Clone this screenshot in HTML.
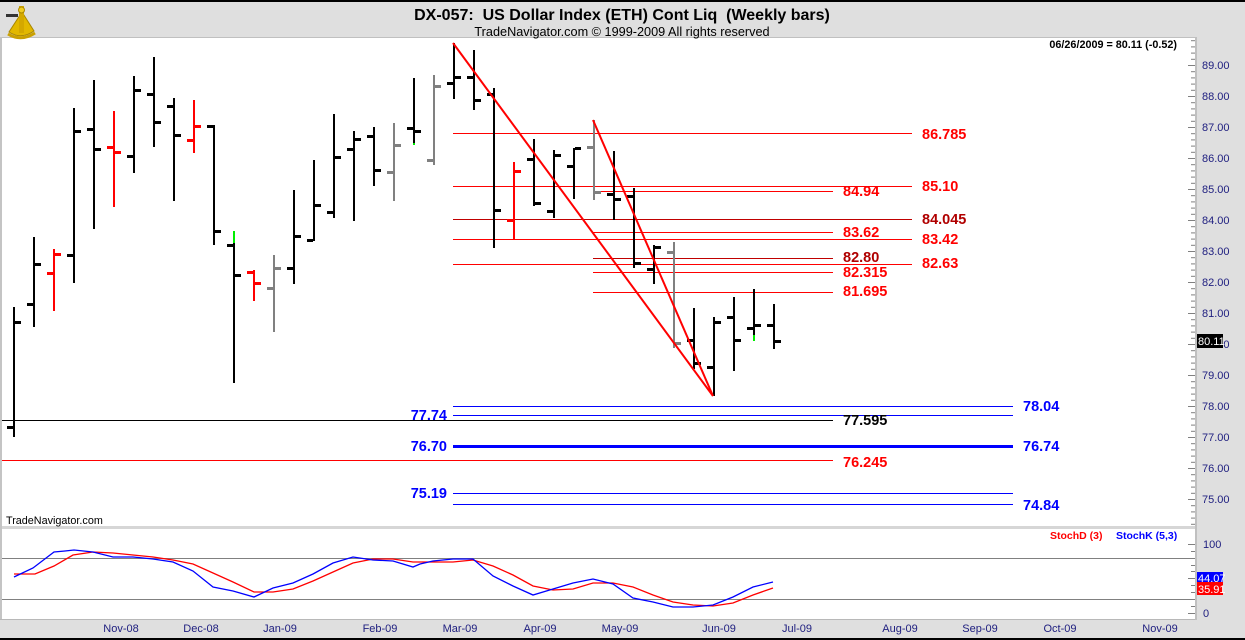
<!DOCTYPE html>
<html><head><meta charset="utf-8"><style>
html,body{margin:0;padding:0;background:#dfdfdf;}
svg{display:block;font-family:"Liberation Sans",Arial,sans-serif;}
</style></head><body>
<svg width="1245" height="640" viewBox="0 0 1245 640" xmlns="http://www.w3.org/2000/svg">
<defs>
<pattern id="tk" x="1188" y="65" width="8" height="31" patternUnits="userSpaceOnUse">
<rect x="0" y="0" width="7" height="1" fill="#808080"/>
<rect x="3" y="6.2" width="4" height="1" fill="#808080"/>
<rect x="3" y="12.4" width="4" height="1" fill="#808080"/>
<rect x="3" y="18.6" width="4" height="1" fill="#808080"/>
<rect x="3" y="24.8" width="4" height="1" fill="#808080"/>
</pattern>
</defs>
<rect x="0" y="0" width="1245" height="640" fill="#dfdfdf"/>
<rect x="0" y="0" width="1245" height="2" fill="#000"/>
<rect x="0" y="638" width="1245" height="2" fill="#000"/>
<rect x="0" y="37" width="1197" height="1" fill="#c0c0c0"/>
<rect x="0" y="37" width="2" height="583" fill="#c4c4c4"/>
<!-- main plot -->
<rect x="2" y="38" width="1193" height="488" fill="#fff"/>
<rect x="2" y="526" width="1193" height="3" fill="#d6d6d6"/>
<rect x="2" y="529" width="1193" height="90" fill="#fff"/>
<rect x="0" y="619" width="1197" height="1" fill="#b8b8b8"/>
<rect x="1195" y="37" width="2" height="583" fill="#c0c0c0"/>

<!-- sextant icon -->
<g>
<path d="M9 32 Q21 40 34 31 L22 12 Z" fill="#e2b800" stroke="#a88600" stroke-width="1"/>
<rect x="19" y="6" width="5" height="27" fill="#d4a800"/>
<rect x="6" y="14" width="12" height="3" fill="#333"/>
<circle cx="21.5" cy="10" r="3" fill="#f0cc20" stroke="#a88600"/>
<path d="M8 34 Q21 42 35 33" fill="none" stroke="#caa000" stroke-width="3"/>
</g>

<!-- title -->
<text x="622" y="20" text-anchor="middle" font-size="16" font-weight="bold" fill="#000" style="white-space:pre" xml:space="preserve">DX-057:  US Dollar Index (ETH) Cont Liq  (Weekly bars)</text>
<text x="622" y="36" text-anchor="middle" font-size="12.7" fill="#000">TradeNavigator.com © 1999-2009 All rights reserved</text>
<text x="1177" y="48" text-anchor="end" font-size="10.8" font-weight="bold" fill="#000">06/26/2009 = 80.11 (-0.52)</text>

<!-- right axis ticks -->
<rect x="1188" y="38" width="7" height="488" fill="url(#tk)"/>
<g font-size="11" fill="#202080">
<text x="1202" y="69">89.00</text>
<text x="1202" y="100">88.00</text>
<text x="1202" y="131">87.00</text>
<text x="1202" y="162">86.00</text>
<text x="1202" y="193">85.00</text>
<text x="1202" y="224">84.00</text>
<text x="1202" y="255">83.00</text>
<text x="1202" y="286">82.00</text>
<text x="1202" y="317">81.00</text>
<text x="1202" y="348">80.00</text>
<text x="1202" y="379">79.00</text>
<text x="1202" y="410">78.00</text>
<text x="1202" y="441">77.00</text>
<text x="1202" y="472">76.00</text>
<text x="1202" y="503">75.00</text>
</g>
<rect x="1197" y="334" width="26" height="14" fill="#000"/>
<text x="1198" y="345" font-size="11" fill="#fff">80.11</text>

<!-- horizontal level lines -->
<g shape-rendering="crispEdges">
<rect x="453" y="133" width="459" height="1" fill="#ff0000"/>
<rect x="453" y="186" width="459" height="1" fill="#ff0000"/>
<rect x="453" y="219" width="459" height="1" fill="#c00000"/>
<rect x="453" y="239" width="459" height="1" fill="#ff0000"/>
<rect x="453" y="264" width="459" height="1" fill="#ff0000"/>
<rect x="593" y="191" width="240" height="1" fill="#ff0000"/>
<rect x="593" y="232" width="240" height="1" fill="#ff0000"/>
<rect x="593" y="258" width="240" height="1" fill="#c00000"/>
<rect x="593" y="272" width="240" height="1" fill="#ff0000"/>
<rect x="593" y="292" width="240" height="1" fill="#ff0000"/>
<rect x="453" y="406" width="560" height="1" fill="#0000ff"/>
<rect x="453" y="415" width="560" height="1" fill="#0000ff"/>
<rect x="453" y="445" width="560" height="3" fill="#0000ff"/>
<rect x="453" y="493" width="560" height="1" fill="#0000ff"/>
<rect x="453" y="504" width="560" height="1" fill="#0000ff"/>
<rect x="2" y="420" width="831" height="1" fill="#000"/>
<rect x="2" y="460" width="831" height="1" fill="#ff0000"/>
</g>

<!-- labels -->
<g font-size="14.5" font-weight="bold">
<text x="922" y="139" fill="#ff0000">86.785</text>
<text x="922" y="191" fill="#ff0000">85.10</text>
<text x="922" y="224" fill="#b00000">84.045</text>
<text x="922" y="244" fill="#ff0000">83.42</text>
<text x="922" y="268" fill="#ff0000">82.63</text>
<text x="843" y="196" fill="#ff0000">84.94</text>
<text x="843" y="237" fill="#ff0000">83.62</text>
<text x="843" y="262" fill="#b00000">82.80</text>
<text x="843" y="277" fill="#ff0000">82.315</text>
<text x="843" y="296" fill="#ff0000">81.695</text>
<text x="843" y="425" fill="#000">77.595</text>
<text x="843" y="467" fill="#ff0000">76.245</text>
<text x="1023" y="411" fill="#0000ff">78.04</text>
<text x="1023" y="451" fill="#0000ff">76.74</text>
<text x="1023" y="510" fill="#0000ff">74.84</text>
<text x="447" y="420" text-anchor="end" fill="#0000ff">77.74</text>
<text x="447" y="451" text-anchor="end" fill="#0000ff">76.70</text>
<text x="447" y="498" text-anchor="end" fill="#0000ff">75.19</text>
</g>

<!-- bars -->
<g shape-rendering="crispEdges">
<g fill="#000">
<rect x="13" y="307" width="2" height="130"/><rect x="7" y="426" width="6" height="3"/><rect x="15" y="321" width="6" height="3"/>
<rect x="33" y="237" width="2" height="90"/><rect x="27" y="303" width="6" height="3"/><rect x="35" y="263" width="6" height="3"/>
<rect x="73" y="108" width="2" height="175"/><rect x="67" y="254" width="6" height="3"/><rect x="75" y="130" width="6" height="3"/>
<rect x="93" y="80" width="2" height="149"/><rect x="87" y="128" width="6" height="3"/><rect x="95" y="148" width="6" height="3"/>
<rect x="133" y="76" width="2" height="97"/><rect x="127" y="155" width="6" height="3"/><rect x="135" y="89" width="6" height="3"/>
<rect x="153" y="57" width="2" height="90"/><rect x="147" y="93" width="6" height="3"/><rect x="155" y="121" width="6" height="3"/>
<rect x="173" y="98" width="2" height="103"/><rect x="167" y="105" width="6" height="3"/><rect x="175" y="134" width="6" height="3"/>
<rect x="213" y="125" width="2" height="120"/><rect x="207" y="125" width="6" height="3"/><rect x="215" y="230" width="6" height="3"/>
<rect x="233" y="243" width="2" height="140"/><rect x="227" y="244" width="6" height="3"/><rect x="235" y="274" width="6" height="3"/>
<rect x="293" y="190" width="2" height="94"/><rect x="287" y="267" width="6" height="3"/><rect x="295" y="235" width="6" height="3"/>
<rect x="313" y="160" width="2" height="81"/><rect x="307" y="239" width="6" height="3"/><rect x="315" y="204" width="6" height="3"/>
<rect x="333" y="114" width="2" height="104"/><rect x="327" y="211" width="6" height="3"/><rect x="335" y="156" width="6" height="3"/>
<rect x="353" y="131" width="2" height="90"/><rect x="347" y="148" width="6" height="3"/><rect x="355" y="138" width="6" height="3"/>
<rect x="373" y="127" width="2" height="59"/><rect x="367" y="135" width="6" height="3"/><rect x="375" y="169" width="6" height="3"/>
<rect x="413" y="78" width="2" height="65"/><rect x="407" y="127" width="6" height="3"/><rect x="415" y="130" width="6" height="3"/>
<rect x="453" y="43" width="2" height="56"/><rect x="447" y="82" width="6" height="3"/><rect x="455" y="76" width="6" height="3"/>
<rect x="473" y="50" width="2" height="60"/><rect x="467" y="76" width="6" height="3"/><rect x="475" y="99" width="6" height="3"/>
<rect x="493" y="88" width="2" height="160"/><rect x="487" y="93" width="6" height="3"/><rect x="495" y="209" width="6" height="3"/>
<rect x="533" y="139" width="2" height="67"/><rect x="527" y="158" width="6" height="3"/><rect x="535" y="202" width="6" height="3"/>
<rect x="553" y="150" width="2" height="68"/><rect x="547" y="210" width="6" height="3"/><rect x="555" y="154" width="6" height="3"/>
<rect x="573" y="148" width="2" height="51"/><rect x="567" y="165" width="6" height="3"/><rect x="575" y="147" width="6" height="3"/>
<rect x="613" y="151" width="2" height="69"/><rect x="607" y="193" width="6" height="3"/><rect x="615" y="198" width="6" height="3"/>
<rect x="633" y="188" width="2" height="80"/><rect x="627" y="195" width="6" height="3"/><rect x="635" y="262" width="6" height="3"/>
<rect x="653" y="245" width="2" height="39"/><rect x="647" y="268" width="6" height="3"/><rect x="655" y="246" width="6" height="3"/>
<rect x="693" y="308" width="2" height="61"/><rect x="687" y="339" width="6" height="3"/><rect x="695" y="362" width="6" height="3"/>
<rect x="713" y="317" width="2" height="79"/><rect x="707" y="366" width="6" height="3"/><rect x="715" y="321" width="6" height="3"/>
<rect x="733" y="297" width="2" height="74"/><rect x="727" y="316" width="6" height="3"/><rect x="735" y="339" width="6" height="3"/>
<rect x="753" y="289" width="2" height="46"/><rect x="747" y="327" width="6" height="3"/><rect x="755" y="324" width="6" height="3"/>
<rect x="773" y="304" width="2" height="45"/><rect x="767" y="324" width="6" height="3"/><rect x="775" y="340" width="6" height="3"/>
</g>
<g fill="#ff0000">
<rect x="53" y="249" width="2" height="62"/><rect x="47" y="272" width="6" height="3"/><rect x="55" y="253" width="6" height="3"/>
<rect x="113" y="111" width="2" height="96"/><rect x="107" y="146" width="6" height="3"/><rect x="115" y="151" width="6" height="3"/>
<rect x="193" y="100" width="2" height="53"/><rect x="187" y="139" width="6" height="3"/><rect x="195" y="125" width="6" height="3"/>
<rect x="253" y="270" width="2" height="31"/><rect x="247" y="271" width="6" height="3"/><rect x="255" y="282" width="6" height="3"/>
<rect x="513" y="162" width="2" height="78"/><rect x="507" y="219" width="6" height="3"/><rect x="515" y="170" width="6" height="3"/>
</g>
<g fill="#808080">
<rect x="273" y="255" width="2" height="77"/><rect x="267" y="287" width="6" height="3"/><rect x="275" y="267" width="6" height="3"/>
<rect x="393" y="123" width="2" height="78"/><rect x="387" y="171" width="6" height="3"/><rect x="395" y="144" width="6" height="3"/>
<rect x="433" y="75" width="2" height="90"/><rect x="427" y="159" width="6" height="3"/><rect x="435" y="85" width="6" height="3"/>
<rect x="593" y="120" width="2" height="80"/><rect x="587" y="146" width="6" height="3"/><rect x="595" y="191" width="6" height="3"/>
<rect x="673" y="242" width="2" height="106"/><rect x="667" y="251" width="6" height="3"/><rect x="675" y="342" width="6" height="3"/>
</g>
<g fill="#00ee00">
<rect x="233" y="231" width="2" height="12"/>
<rect x="413" y="143" width="2" height="2"/>
<rect x="753" y="335" width="2" height="6"/>
</g>
</g>

<!-- trend lines -->
<line x1="453" y1="43" x2="713" y2="396" stroke="#ff0000" stroke-width="2"/>
<line x1="593" y1="120" x2="713" y2="396" stroke="#ff0000" stroke-width="2"/>

<text x="6" y="524" font-size="10.8" fill="#000">TradeNavigator.com</text>

<!-- stochastic panel -->
<rect x="2" y="558" width="1193" height="1" fill="#808080"/>
<rect x="2" y="599" width="1193" height="1" fill="#808080"/>
<text x="1050" y="539" font-size="10.5" font-weight="bold" fill="#ff0000">StochD (3)</text>
<text x="1116" y="539" font-size="10.5" font-weight="bold" fill="#0000ff">StochK (5,3)</text>
<polyline fill="none" stroke="#ff0000" stroke-width="1.3" points="14,574 35,574 54,566 73,555 93,552 113,553 133,555 153,557 173,560 193,564 213,573 233,582 254,592 273,592 293,589 313,581 333,572 353,563 373,559 393,559 413,562 433,562 453,562 473,560 493,566 513,575 533,586 553,590 573,589 593,583 613,583 633,587 653,595 673,602 693,605 713,606 733,603 753,595 773,588"/>
<polyline fill="none" stroke="#0000ff" stroke-width="1.3" points="14,577 33,568 54,552 65,551 74,550 93,552 113,557 133,557 153,559 173,562 193,571 213,587 233,591 254,597 273,588 293,583 313,574 333,563 353,557 373,560 393,561 413,567 420,564 433,561 453,559 473,559 493,576 513,586 533,595 553,589 573,583 593,579 613,584 633,598 653,602 673,607 693,607 713,605 733,597 753,587 773,582"/>
<g fill="#808080" shape-rendering="crispEdges">
<rect x="1188" y="544" width="7" height="1"/>
<rect x="1191" y="551" width="4" height="1"/>
<rect x="1191" y="558" width="4" height="1"/>
<rect x="1191" y="565" width="4" height="1"/>
<rect x="1191" y="571" width="4" height="1"/>
<rect x="1188" y="578" width="7" height="1"/>
<rect x="1191" y="585" width="4" height="1"/>
<rect x="1191" y="592" width="4" height="1"/>
<rect x="1191" y="599" width="4" height="1"/>
<rect x="1191" y="606" width="4" height="1"/>
<rect x="1188" y="613" width="7" height="1"/>
</g>
<text x="1203" y="548" font-size="11" fill="#202080">100</text>
<text x="1203" y="617" font-size="11" fill="#202080">0</text>
<rect x="1197" y="572" width="26" height="12" fill="#0000ff"/>
<text x="1198" y="582" font-size="11" fill="#fff">44.07</text>
<rect x="1197" y="582" width="26" height="13" fill="#ff0000"/>
<text x="1198" y="593" font-size="11" fill="#fff">35.91</text>

<!-- bottom date axis -->
<g font-size="11" fill="#202080" text-anchor="middle">
<text x="121" y="632">Nov-08</text>
<text x="201" y="632">Dec-08</text>
<text x="280" y="632">Jan-09</text>
<text x="380" y="632">Feb-09</text>
<text x="460" y="632">Mar-09</text>
<text x="540" y="632">Apr-09</text>
<text x="620" y="632">May-09</text>
<text x="719" y="632">Jun-09</text>
<text x="797" y="632">Jul-09</text>
<text x="900" y="632">Aug-09</text>
<text x="980" y="632">Sep-09</text>
<text x="1060" y="632">Oct-09</text>
<text x="1160" y="632">Nov-09</text>
</g>
</svg>
</body></html>
